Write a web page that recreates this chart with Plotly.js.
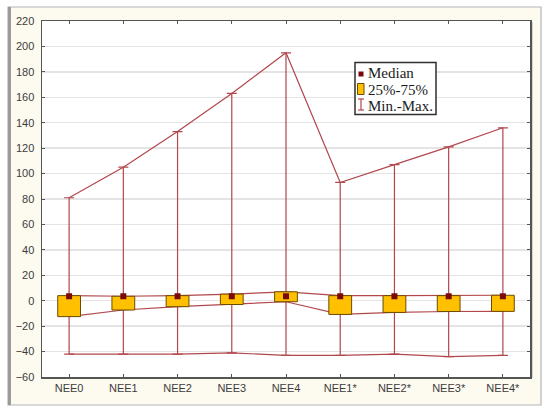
<!DOCTYPE html>
<html>
<head>
<meta charset="utf-8">
<script src="https://cdn.plot.ly/plotly-3.0.1.min.js"></script>
<style>html,body{margin:0;padding:0;background:#fff;}#chart{width:550px;height:412px;}</style>
</head>
<body>
<div id="chart"></div>
<script>
// ---- data ----
var categories = ['NEE0','NEE1','NEE2','NEE3','NEE4','NEE1*','NEE2*','NEE3*','NEE4*'];
var maxValues    = [81, 105, 133, 163, 195, 93, 107, 121, 136];
var q3Values     = [4, 3.5, 4, 5.2, 7, 4, 4, 4, 4.3];
var medianValues = [3.5, 3.5, 3.5, 3.5, 3.5, 3.5, 3.5, 3.5, 3.5];
var q1Values     = [-12.5, -7.3, -4.7, -3, -0.8, -10.8, -9.2, -8.5, -8.4];
var minValues    = [-42, -42, -42, -41, -43, -43, -42, -44, -43];
var legendLabels = ['Median', '25%-75%', 'Min.-Max.'];

// ---- styles ----
var RED = '#b2474c';
var BOX_FILL = '#ffc000';
var BOX_LINE = '#6b4c00';
var MED = '#7a0a0a';

// plot area in pixels (for layout decoration only)
var L = 42, R = 530, T = 21, B = 377;
function px(x){ return (x - L) / (R - L); }
function py(y){ return (B - y) / (B - T); }

var upperErr = maxValues.map(function(v,i){ return v - medianValues[i]; });
var lowerErr = minValues.map(function(v,i){ return medianValues[i] - v; });
var boxHeights = q3Values.map(function(v,i){ return v - q1Values[i]; });

var lineStyle = {color: RED, width: 1.2};
var traces = [
  {x: categories, y: maxValues, mode: 'lines', line: lineStyle, hoverinfo: 'skip', showlegend: false},
  {x: categories, y: minValues, mode: 'lines', line: lineStyle, hoverinfo: 'skip', showlegend: false},
  {x: categories, y: q3Values, mode: 'lines', line: lineStyle, hoverinfo: 'skip', showlegend: false},
  {x: categories, y: q1Values, mode: 'lines', line: lineStyle, hoverinfo: 'skip', showlegend: false},
  {x: categories, y: medianValues, mode: 'markers', marker: {size: 1, color: 'rgba(0,0,0,0)'},
   error_y: {type: 'data', symmetric: false, array: upperErr, arrayminus: lowerErr,
             color: RED, thickness: 1.2, width: 5},
   hoverinfo: 'skip', showlegend: false},
  {type: 'bar', x: categories, y: boxHeights, base: q1Values, width: 0.42,
   marker: {color: BOX_FILL, line: {color: BOX_LINE, width: 1}},
   xaxis: 'x2', yaxis: 'y2', showlegend: false, hoverinfo: 'skip'},
  {x: categories, y: medianValues, mode: 'markers',
   marker: {symbol: 'square', size: 6, color: MED},
   xaxis: 'x2', yaxis: 'y2', showlegend: false, hoverinfo: 'skip'}
];

var axisFont = {family: 'Liberation Sans, Arial, sans-serif', size: 11, color: '#3c3c3c'};
var yRange = [-60, 220];
var xRange = [-0.5, categories.length - 0.5];

var shapes = [
  // outer cream frame
  {type: 'rect', xref: 'paper', yref: 'paper', x0: px(8), x1: px(541), y0: py(405), y1: py(7),
   fillcolor: '#fdfaf0', line: {color: '#b4b4b4', width: 1.2}, layer: 'below'},
  {type: 'line', xref: 'paper', yref: 'paper', x0: px(9.5), x1: px(9.5), y0: py(405), y1: py(7),
   line: {color: '#9a9a9a', width: 3}, layer: 'below'},
  // plot area white
  {type: 'rect', xref: 'paper', yref: 'paper', x0: 0, x1: 1, y0: 0, y1: 1,
   fillcolor: '#ffffff', line: {width: 0}, layer: 'below'},
  // right shadow of plot box
  {type: 'line', xref: 'paper', yref: 'paper', x0: px(532), x1: px(532), y0: py(378), y1: py(22),
   line: {color: '#c8c8c8', width: 1.5}, layer: 'below'},
  // legend box
  {type: 'rect', xref: 'paper', yref: 'paper', x0: px(355), x1: px(436), y0: py(114.5), y1: py(62.5),
   fillcolor: '#ffffff', line: {color: '#2e2e2e', width: 1.5}, layer: 'above'},
  // legend: median square
  {type: 'rect', xref: 'paper', yref: 'paper', x0: px(358.5), x1: px(363.5), y0: py(76.5), y1: py(71.5),
   fillcolor: MED, line: {width: 0}, layer: 'above'},
  // legend: box
  {type: 'rect', xref: 'paper', yref: 'paper', x0: px(357.5), x1: px(364), y0: py(94.5), y1: py(83.5),
   fillcolor: BOX_FILL, line: {color: BOX_LINE, width: 1}, layer: 'above'},
  // legend: I symbol
  {type: 'line', xref: 'paper', yref: 'paper', x0: px(361), x1: px(361), y0: py(110), y1: py(99),
   line: {color: RED, width: 1.2}, layer: 'above'},
  {type: 'line', xref: 'paper', yref: 'paper', x0: px(358), x1: px(364), y0: py(99), y1: py(99),
   line: {color: RED, width: 1.2}, layer: 'above'},
  {type: 'line', xref: 'paper', yref: 'paper', x0: px(358), x1: px(364), y0: py(110), y1: py(110),
   line: {color: RED, width: 1.2}, layer: 'above'}
];

var legendY = [73, 89.5, 105.5];
var annotations = legendLabels.map(function(t, i){
  return {text: t, xref: 'paper', yref: 'paper', x: px(366), y: py(legendY[i]),
          xanchor: 'left', yanchor: 'middle', showarrow: false,
          font: {family: 'Liberation Serif, Times New Roman, serif', size: 15, color: '#1a1a1a'}};
});

var layout = {
  width: 550, height: 412,
  margin: {l: L, r: 550 - R, t: T, b: 412 - B, pad: 0},
  paper_bgcolor: '#ffffff',
  plot_bgcolor: 'rgba(0,0,0,0)',
  showlegend: false,
  xaxis: {type: 'category', categoryorder: 'array', categoryarray: categories, range: xRange,
          showgrid: false, zeroline: false, showline: true, mirror: 'ticks',
          linecolor: '#555555', linewidth: 1.5, ticks: 'inside', ticklen: 3, tickwidth: 1,
          tickcolor: '#555555', tickfont: axisFont, fixedrange: true},
  yaxis: {range: yRange, dtick: 20, tick0: 0, showgrid: true, gridcolor: '#e4e4e4', gridwidth: 1.5,
          zeroline: false, showline: true, mirror: 'ticks', linecolor: '#555555', linewidth: 1.5,
          ticks: 'inside', ticklen: 3, tickwidth: 1, tickcolor: '#555555', tickfont: axisFont,
          ticklabelstandoff: 4, fixedrange: true},
  xaxis2: {type: 'category', categoryorder: 'array', categoryarray: categories, range: xRange,
           overlaying: 'x', anchor: 'y2', visible: false, fixedrange: true},
  yaxis2: {range: yRange, overlaying: 'y', anchor: 'x2', visible: false, fixedrange: true},
  shapes: shapes,
  annotations: annotations
};

Plotly.newPlot('chart', traces, layout, {displayModeBar: false, staticPlot: true});
</script>
</body>
</html>
